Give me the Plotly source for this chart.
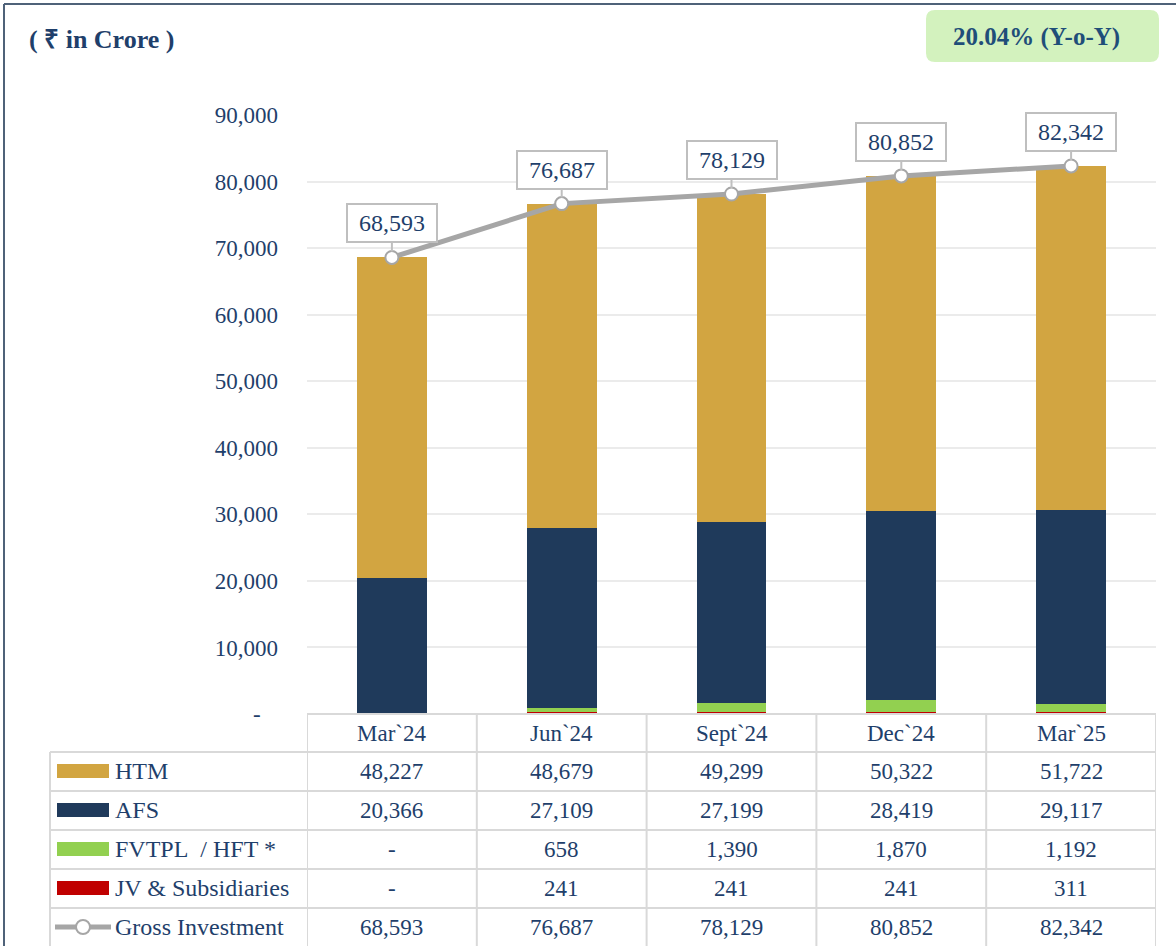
import plotly.graph_objects as go

# ---------------- data ----------------
categories = ["Mar`24", "Jun`24", "Sept`24", "Dec`24", "Mar`25"]
htm = [48227, 48679, 49299, 50322, 51722]
afs = [20366, 27109, 27199, 28419, 29117]
fvtpl = [0, 658, 1390, 1870, 1192]
jv = [0, 241, 241, 241, 311]
gross = [68593, 76687, 78129, 80852, 82342]
series_names = ["HTM", "AFS", "FVTPL\u00a0 / HFT *", "JV & Subsidiaries", "Gross Investment"]
y_ticks = [0, 10000, 20000, 30000, 40000, 50000, 60000, 70000, 80000, 90000]
unit_title = "( ₹ in Crore )"
growth_text = "20.04% (Y-o-Y)"

# ---------------- style ----------------
W, H = 1176, 946
L, R, T, B = 307, 20, 115, 232
PW = W - L - R
PH = H - T - B


def px(x):
    return (x - L) / PW


def py(y):
    return (H - B - y) / PH


TEXT = "#1F3F6B"
FONT = "Liberation Serif"
GRID = "#D9D9D9"
HTM_C = "#D2A541"
AFS_C = "#1F3A5B"
FV_C = "#92D050"
JV_C = "#C00000"
LINE_C = "#A6A6A6"

fig = go.Figure()
bw = 0.41
fig.add_bar(x=categories, y=jv, name=series_names[3], marker=dict(color=JV_C, line_width=0), width=bw)
fig.add_bar(x=categories, y=fvtpl, name=series_names[2], marker=dict(color=FV_C, line_width=0), width=bw)
fig.add_bar(x=categories, y=afs, name=series_names[1], marker=dict(color=AFS_C, line_width=0), width=bw)
fig.add_bar(x=categories, y=htm, name=series_names[0], marker=dict(color=HTM_C, line_width=0), width=bw)
fig.add_scatter(x=categories, y=gross, name=series_names[4], mode="lines+markers",
                line=dict(color=LINE_C, width=5),
                marker=dict(size=13, color="white", line=dict(color=LINE_C, width=2)),
                cliponaxis=False)

ann = []
shapes = []

# callout data labels
for c, v in zip(categories, gross):
    ann.append(dict(x=c, y=v, xref="x", yref="y", text=f"{v:,}", showarrow=True,
                    arrowhead=0, arrowwidth=2, arrowcolor="#BFBFBF", ax=0, ay=-34,
                    standoff=6, bordercolor="#BFBFBF", borderwidth=2, bgcolor="white",
                    width=86, height=34, font=dict(family=FONT, size=24, color=TEXT)))

# title & growth box
ann.append(dict(x=px(27), y=py(39), xref="paper", yref="paper", xanchor="left", yanchor="middle",
                text=f"<b>{unit_title}</b>", showarrow=False,
                font=dict(family=FONT, size=26, color=TEXT)))
x0, x1, y0, y1, r = px(926), px(1159), py(62), py(10), 9
rx, ry = r / PW, r / PH
path = (f"M {x0+rx},{y0} L {x1-rx},{y0} Q {x1},{y0} {x1},{y0+ry} L {x1},{y1-ry} "
        f"Q {x1},{y1} {x1-rx},{y1} L {x0+rx},{y1} Q {x0},{y1} {x0},{y1-ry} "
        f"L {x0},{y0+ry} Q {x0},{y0} {x0+rx},{y0} Z")
shapes.append(dict(type="path", path=path, xref="paper", yref="paper",
                   fillcolor="#D3F2BE", line=dict(width=0), layer="below"))
ann.append(dict(x=px(1036), y=py(37), xref="paper", yref="paper", xanchor="center", yanchor="middle",
                text=f"<b>{growth_text}</b>", showarrow=False,
                font=dict(family=FONT, size=25, color="#1F4E79")))

# outer frame
shapes.append(dict(type="line", xref="paper", yref="paper", x0=px(4), x1=px(4), y0=py(4), y1=py(960),
                   line=dict(color="#4F6279", width=2)))
shapes.append(dict(type="line", xref="paper", yref="paper", x0=px(4), x1=px(1190), y0=py(4), y1=py(4),
                   line=dict(color="#4F6279", width=2)))

# table grid
row_lines = [752, 791, 830, 869, 908]
shapes.append(dict(type="line", xref="x", yref="paper", x0=-0.5, x1=len(categories) - 0.5,
                   y0=py(714), y1=py(714), line=dict(color=GRID, width=2)))
for yy in row_lines:
    shapes.append(dict(type="line", xref="paper", yref="paper", x0=px(50), x1=1,
                       y0=py(yy), y1=py(yy), line=dict(color=GRID, width=2)))
shapes.append(dict(type="line", xref="paper", yref="paper", x0=px(50), x1=px(50),
                   y0=py(752), y1=py(960), line=dict(color=GRID, width=2)))
for i in range(len(categories) + 1):
    shapes.append(dict(type="line", xref="x", yref="paper", x0=i - 0.5, x1=i - 0.5,
                       y0=py(714), y1=py(960), line=dict(color=GRID, width=2)))

# header row (categories)
for c in categories:
    ann.append(dict(x=c, y=py(733), xref="x", yref="paper", text=c, showarrow=False,
                    xanchor="center", yanchor="middle", font=dict(family=FONT, size=23, color=TEXT)))

# value rows
row_centers = [771, 810, 849, 888, 927]
rows = [htm, afs, fvtpl, jv, gross]
for yc, vals, name in zip(row_centers, rows, series_names):
    for c, v in zip(categories, vals):
        ann.append(dict(x=c, y=py(yc), xref="x", yref="paper", text=("-" if v == 0 else f"{v:,}"),
                        showarrow=False, xanchor="center", yanchor="middle",
                        font=dict(family=FONT, size=23, color=TEXT)))
    ann.append(dict(x=px(113), y=py(yc), xref="paper", yref="paper", text=name, showarrow=False,
                    xanchor="left", yanchor="middle", font=dict(family=FONT, size=24, color=TEXT)))

# legend swatches
for yc, col in zip(row_centers[:4], [HTM_C, AFS_C, FV_C, JV_C]):
    shapes.append(dict(type="rect", xref="paper", yref="paper", x0=px(57), x1=px(109),
                       y0=py(yc + 7), y1=py(yc - 7), fillcolor=col, line=dict(width=0)))
yc = row_centers[4]
shapes.append(dict(type="line", xref="paper", yref="paper", x0=px(55), x1=px(111),
                   y0=py(yc), y1=py(yc), line=dict(color=LINE_C, width=5)))
shapes.append(dict(type="circle", xref="paper", yref="paper", x0=px(76), x1=px(90),
                   y0=py(yc + 7), y1=py(yc - 7), fillcolor="white", line=dict(color=LINE_C, width=2)))

fig.update_layout(
    width=W, height=H,
    margin=dict(l=L, r=R, t=T, b=B),
    barmode="stack",
    showlegend=False,
    paper_bgcolor="white", plot_bgcolor="white",
    font=dict(family=FONT, color=TEXT),
    annotations=ann, shapes=shapes,
    xaxis=dict(type="category", range=[-0.5, len(categories) - 0.5], showticklabels=False,
               showgrid=False, zeroline=False, showline=False, ticks=""),
    yaxis=dict(range=[0, 90000], tickvals=y_ticks,
               ticktext=["-\u00a0\u00a0\u00a0"] + [f"{v:,}" for v in y_ticks[1:]],
               tickfont=dict(family=FONT, size=23, color=TEXT),
               gridcolor="#EBEBEB", gridwidth=1.5, zeroline=False, showline=False,
               ticks="", ticklabelstandoff=28),
)

fig.write_html("out.html", config={"displayModeBar": False},
               post_script="document.body.style.margin='0';")
